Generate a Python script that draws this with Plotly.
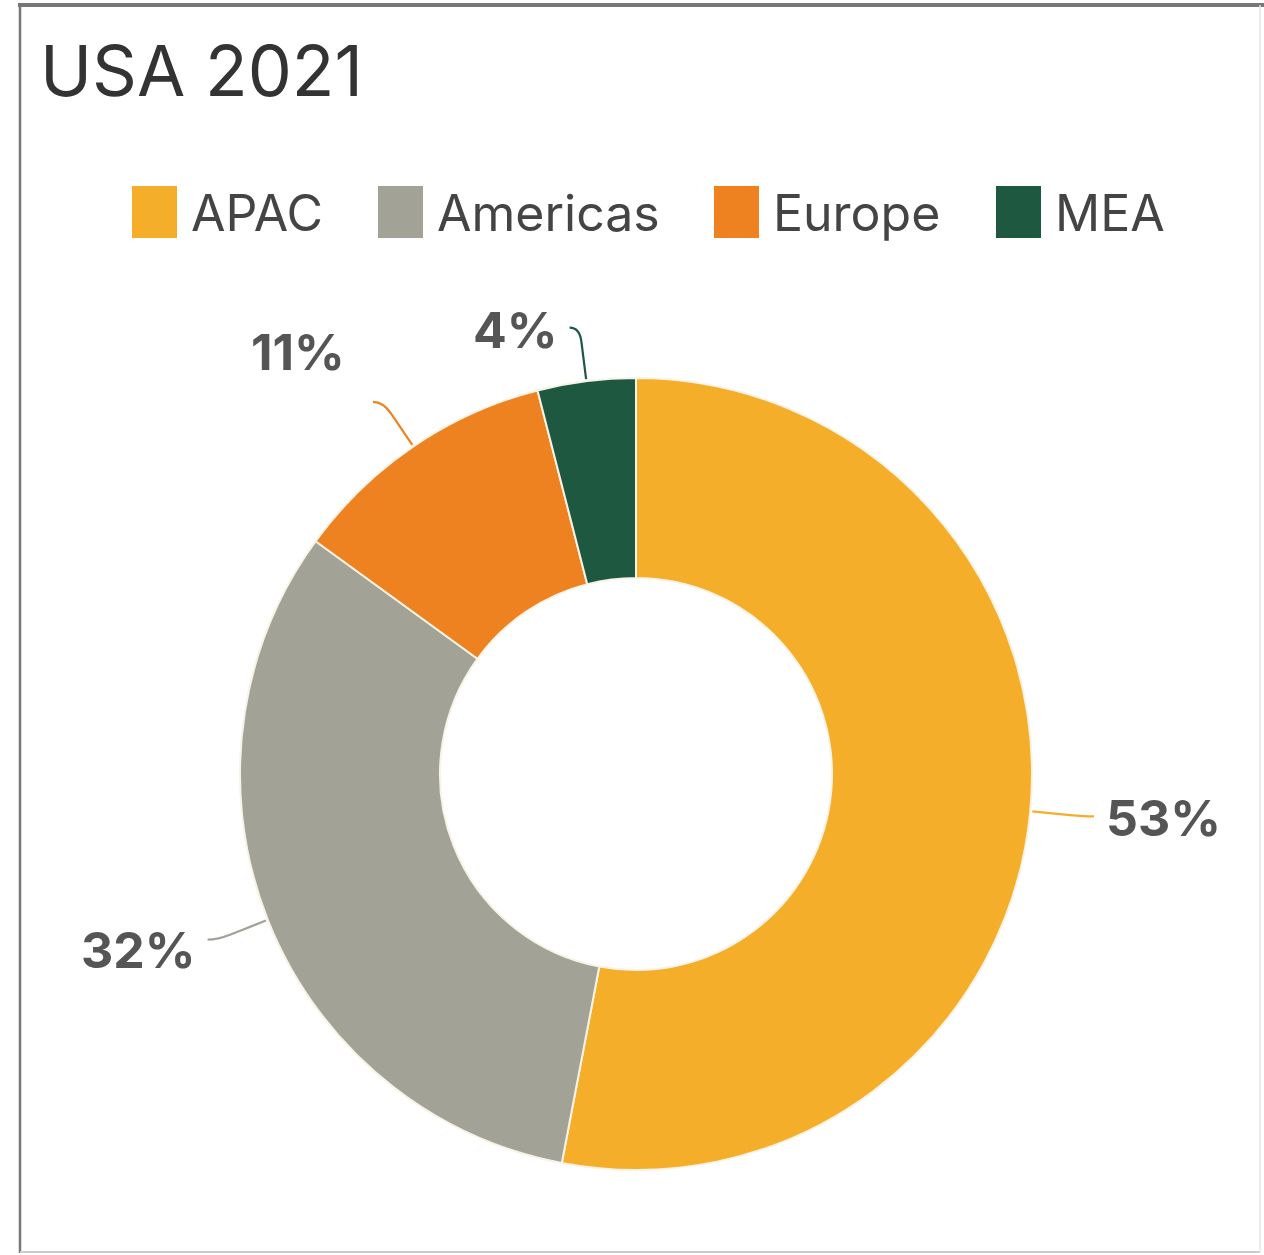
import math
import plotly.graph_objects as go

# ---- data ----
categories = ["APAC", "Americas", "Europe", "MEA"]
values = [53, 32, 11, 4]
title_text = "USA 2021"

# ---- style ----
colors = ["#F5AE2A", "#A2A297", "#EE8221", "#1E5840"]
W, H = 1264, 1255
CX, CY, R = 636, 774, 396          # pie centre / radius in pixels
HOLE = 0.495
FONT = "Inter"
label_nudge = [(0, 2), (0, 10), (-16, -50), (0, 2)]   # pixel nudges of label text
legend_x = [132, 378, 714, 996]    # legend swatch left edges (px)
legend_y = (186, 238)

def px(x):
    return x / W

def py(y):
    return 1 - y / H

fig = go.Figure()
fig.add_trace(go.Pie(
    labels=categories,
    values=values,
    sort=False,
    direction="clockwise",
    rotation=0,
    hole=HOLE,
    textinfo="none",
    hoverinfo="label+percent",
    marker=dict(colors=colors, line=dict(color="#F7F3E6", width=2)),
    domain=dict(x=[px(CX - R), px(CX + R)], y=[py(CY + R), py(CY - R)]),
    showlegend=False,
))

shapes = []
annotations = []

# leader lines + percentage labels computed from the values
total = sum(values)
cum = 0
for i, v in enumerate(values):
    mid = (cum + v / 2) / total * 2 * math.pi
    cum += v
    dx, dy = math.sin(mid), -math.cos(mid)
    side = 1 if dx >= 0 else -1
    p0 = (CX + (R + 2) * dx, CY + (R + 2) * dy)
    pa = (CX + (R + 40) * dx, CY + (R + 40) * dy)
    p1 = (CX + (R + 54) * dx, CY + (R + 54) * dy)
    p2 = (p1[0] + side * 10, p1[1])
    path = (f"M {px(p0[0])},{py(p0[1])} L {px(pa[0])},{py(pa[1])} "
            f"Q {px(p1[0])},{py(p1[1])} {px(p2[0])},{py(p2[1])}")
    shapes.append(dict(type="path", path=path, xref="paper", yref="paper",
                       line=dict(color=colors[i], width=2.2)))
    pct = round(v / total * 100)
    nx, ny = label_nudge[i]
    annotations.append(dict(
        x=px(p2[0] + side * 10 + nx), y=py(p2[1] + ny), xref="paper", yref="paper",
        text=f"<b>{pct}%</b>", showarrow=False,
        xanchor="left" if side > 0 else "right", yanchor="middle",
        font=dict(family=FONT, size=50, color="#555555"),
    ))

# custom legend (large swatches)
for i, cat in enumerate(categories):
    x0 = legend_x[i]
    shapes.append(dict(type="rect", xref="paper", yref="paper",
                       x0=px(x0), x1=px(x0 + 45), y0=py(legend_y[1]), y1=py(legend_y[0]),
                       fillcolor=colors[i], line=dict(width=0)))
    annotations.append(dict(
        x=px(x0 + 57), y=py((legend_y[0] + legend_y[1]) / 2 + 1), xref="paper", yref="paper",
        text=cat, showarrow=False, xanchor="left", yanchor="middle",
        font=dict(family=FONT, size=50, color="#444444"),
    ))

# title
annotations.append(dict(
    x=px(38), y=py(71), xref="paper", yref="paper", text=title_text,
    showarrow=False, xanchor="left", yanchor="middle",
    font=dict(family=FONT, size=70, color="#333333"),
))

# frame
shapes += [
    dict(type="line", xref="paper", yref="paper", x0=px(18), x1=1, y0=py(5), y1=py(5),
         line=dict(color="#777777", width=4)),
    dict(type="line", xref="paper", yref="paper", x0=px(20), x1=px(20), y0=py(5), y1=py(1253),
         line=dict(color="#777777", width=2.5)),
    dict(type="line", xref="paper", yref="paper", x0=px(20), x1=px(1260), y0=py(1252), y1=py(1252),
         line=dict(color="#CCCCCC", width=2)),
    dict(type="line", xref="paper", yref="paper", x0=px(1260), x1=px(1260), y0=py(5), y1=py(1252),
         line=dict(color="#E6E6E6", width=1.5)),
]

fig.update_layout(
    width=W, height=H,
    margin=dict(l=0, r=0, t=0, b=0),
    paper_bgcolor="white", plot_bgcolor="white",
    shapes=shapes, annotations=annotations,
    showlegend=False,
)

fig.write_html(
    "out.html",
    config={"displayModeBar": False},
    post_script="document.body.style.margin='0';document.body.style.overflow='hidden';",
)
